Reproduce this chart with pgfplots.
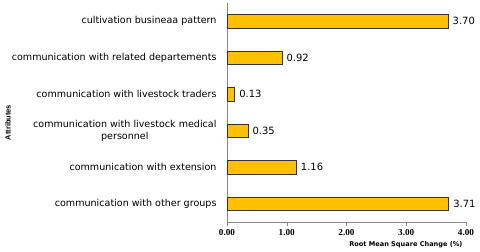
\documentclass[border=0pt]{standalone}
\usepackage{pgfplots}
\pgfplotsset{compat=1.18}
\usepackage{fontspec}
\setmainfont{DejaVu Sans}
\newfontfamily\tickfont{Liberation Serif}
\newfontfamily\narrowfont{Liberation Sans}
\definecolor{barfill}{HTML}{FFC000}
\definecolor{axgray}{HTML}{868686}
\begin{document}
\begin{tikzpicture}
\begin{axis}[
  name=ax,
  scale only axis,
  width=239bp, height=219bp,
  xbar, bar width=0.38,
  xmin=0, xmax=4, ymin=-0.5, ymax=5.5,
  axis x line*=bottom, axis y line*=left,
  axis line style={axgray, -},
  xtick={0,1,2,3,4},
  ytick={0,1,2,3,4,5},
  yticklabels={communication with other groups,communication with extension,{communication with livestock medical\\personnel},communication with livestock traders,communication with related departements,cultivation busineaa pattern},
  minor ytick={-0.5,0.5,1.5,2.5,3.5,4.5,5.5},
  major tick length=4bp, minor tick length=4bp,
  tick align=outside,
  ytick style={draw=none},
  minor tick style={axgray},
  xtick style={axgray},
  /pgf/number format/assume math mode=true,
  xticklabel style={font=\tickfont\bfseries\fontsize{9.2}{10}\selectfont, /pgf/number format/fixed, /pgf/number format/fixed zerofill, /pgf/number format/precision=2},
  yticklabel style={align=center, font=\fontsize{9.6}{11.5}\selectfont, xshift=-3bp},
  nodes near coords,
  nodes near coords style={font=\fontsize{10}{12}\selectfont, black, xshift=1bp, /pgf/number format/fixed, /pgf/number format/fixed zerofill, /pgf/number format/precision=2},
  clip=false,
]
\addplot[draw=black!80, fill=barfill, line width=0.6pt] coordinates {
(3.71,0) (1.16,1) (0.35,2) (0.13,3) (0.92,4) (3.70,5)
};
\end{axis}
\node[anchor=east, font=\bfseries\fontsize{6.6}{7}\selectfont] at ([yshift=-23bp]ax.south east) {Root Mean Square Change (\%)};
\node[rotate=90, font=\narrowfont\bfseries\fontsize{7.5}{8}\selectfont] at ([xshift=-219bp,yshift=-10bp]ax.west) {Attributes};
\pgfresetboundingbox
\path[use as bounding box] ([xshift=-227bp,yshift=-30bp]ax.south west) rectangle ([xshift=14bp,yshift=3bp]ax.north east);
\end{tikzpicture}
\end{document}
